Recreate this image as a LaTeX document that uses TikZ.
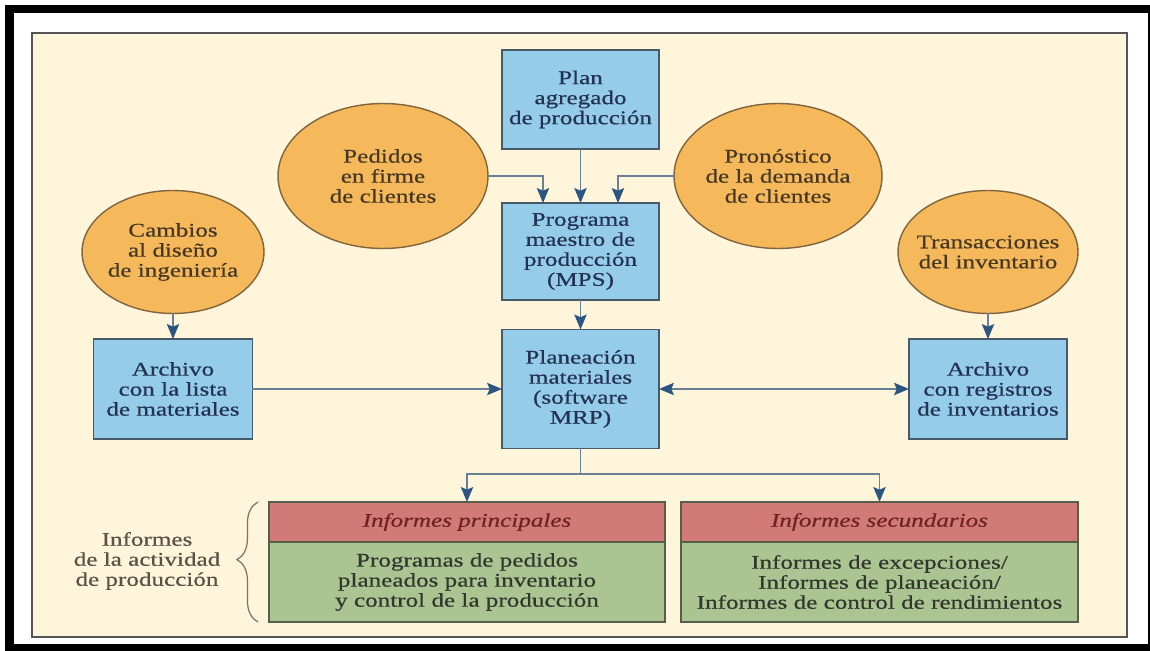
\documentclass[tikz,border=0pt]{standalone}
\usepackage{fontspec}
\setmainfont{Liberation Serif}[FakeStretch=1.3,FakeBold=0.5]
\usetikzlibrary{arrows.meta,shapes.geometric,decorations.pathreplacing,calc}
\definecolor{panelfill}{RGB}{254,245,218}
\definecolor{paneledge}{RGB}{85,85,85}
\definecolor{boxblue}{RGB}{148,204,234}
\definecolor{boxedge}{RGB}{70,90,105}
\definecolor{bluetext}{RGB}{35,50,80}
\definecolor{ovalfill}{RGB}{245,185,92}
\definecolor{ovaledge}{RGB}{130,100,60}
\definecolor{ovaltext}{RGB}{70,55,35}
\definecolor{hdrfill}{RGB}{210,122,120}
\definecolor{bodyfill}{RGB}{170,196,146}
\definecolor{repedge}{RGB}{85,95,75}
\definecolor{hdrtext}{RGB}{110,35,35}
\definecolor{bodytext}{RGB}{50,55,45}
\definecolor{labeltext}{RGB}{90,80,70}
\definecolor{linecol}{RGB}{105,128,148}
\definecolor{headcol}{RGB}{45,85,130}
\begin{document}
\begin{tikzpicture}[x=0.02cm,y=-0.02cm,
  txt/.style={font=\fontsize{11}{11.4}\selectfont, align=center},
  bluebox/.style={txt, draw=boxedge, fill=boxblue, line width=1pt, text=bluetext,
    inner sep=0pt, outer sep=0pt},
  oval/.style={txt, ellipse, draw=ovaledge, fill=ovalfill, line width=0.8pt,
    text=ovaltext, inner sep=-6pt, outer sep=0pt},
  hdrbox/.style={txt, draw=repedge, fill=hdrfill, line width=1pt, text=hdrtext,
    font=\fontsize{11}{11.4}\selectfont\itshape, minimum height=0.8cm, inner sep=0pt, outer sep=0pt},
  bodybox/.style={txt, draw=repedge, fill=bodyfill, line width=1pt, text=bodytext,
    minimum height=1.6cm, inner sep=0pt, outer sep=0pt},
  arr/.style={draw=linecol, line width=0.85pt, -{Stealth[length=8.5pt,width=7pt,inset=1.5pt,color=headcol]}},
  darr/.style={draw=linecol, line width=0.85pt, {Stealth[length=8.5pt,width=7pt,inset=1.5pt,color=headcol]}-{Stealth[length=8.5pt,width=7pt,inset=1.5pt,color=headcol]}}]
\useasboundingbox (0,0) rectangle (1150,651);
% frame and panel
\fill[white] (0,0) rectangle (1150,651);
\fill[black] (5,5) rectangle (1150,651);
\fill[white] (14,13) rectangle (1148,644);
\draw[draw=paneledge, fill=panelfill, line width=0.8pt] (32,33) rectangle (1127,637);

% blue boxes
\node[bluebox, minimum width=3.14cm, minimum height=1.98cm] (plan) at (580.5,99.5)
  {Plan\\agregado\\de producción};
\node[bluebox, minimum width=3.14cm, minimum height=1.94cm] (prog) at (580.5,251.5)
  {Programa\\maestro de\\producción\\(MPS)};
\node[bluebox, minimum width=3.14cm, minimum height=2.38cm] (mrp) at (580.5,389)
  {Planeación\\materiales\\(software\\MRP)};
\node[bluebox, minimum width=3.18cm, minimum height=2.0cm] (lista) at (173,389)
  {Archivo\\con la lista\\de materiales};
\node[bluebox, minimum width=3.16cm, minimum height=2.0cm] (reg) at (988,389)
  {Archivo\\con registros\\de inventarios};

% ovals
\node[oval, minimum width=4.2cm, minimum height=2.9cm] (ped) at (383,176)
  {Pedidos\\en firme\\de clientes};
\node[oval, minimum width=4.16cm, minimum height=2.9cm] (pron) at (778,176)
  {Pronóstico\\de la demanda\\de clientes};
\node[oval, minimum width=3.64cm, minimum height=2.46cm] (camb) at (173,252)
  {Cambios\\al diseño\\de ingeniería};
\node[oval, minimum width=3.6cm, minimum height=2.46cm] (trans) at (988,252)
  {Transacciones\\del inventario};

% report boxes
\node[hdrbox, minimum width=7.92cm] (h1) at (467,522) {Informes principales};
\node[bodybox, minimum width=7.92cm] (b1) at (467,582)
  {Programas de pedidos\\planeados para inventario\\y control de la producción};
\node[hdrbox, minimum width=7.94cm] (h2) at (879.5,522) {Informes secundarios};
\node[bodybox, minimum width=7.94cm] (b2) at (879.5,582)
  {Informes de excepciones/\\Informes de planeación/\\Informes de control de rendimientos};

% left label and brace
\node[txt, text=labeltext] (lbl) at (147,561) {Informes\\de la actividad\\de producción};
\coordinate (brb) at (258,622);
\coordinate (brt) at (258,502);
\draw[draw=labeltext!80, line width=0.7pt, decorate,
  decoration={brace, amplitude=12pt, aspect=0.52}] (brb) -- (brt);

% connectors
\draw[arr] (plan) -- (prog);
\draw[arr] (ped.east) -| ($(prog.north)+(-37.5,0)$);
\draw[arr] (pron.west) -| ($(prog.north)+(37.5,0)$);
\draw[arr] (prog) -- (mrp);
\draw[arr] (camb) -- (lista);
\draw[arr] (trans) -- (reg);
\draw[arr] (lista) -- (mrp);
\draw[darr] (mrp) -- (reg);
\draw[arr] (mrp.south) -- ++(0,25.5) -| (h1.north);
\draw[arr] (mrp.south) -- ++(0,25.5) -| (h2.north);
\end{tikzpicture}
\end{document}
